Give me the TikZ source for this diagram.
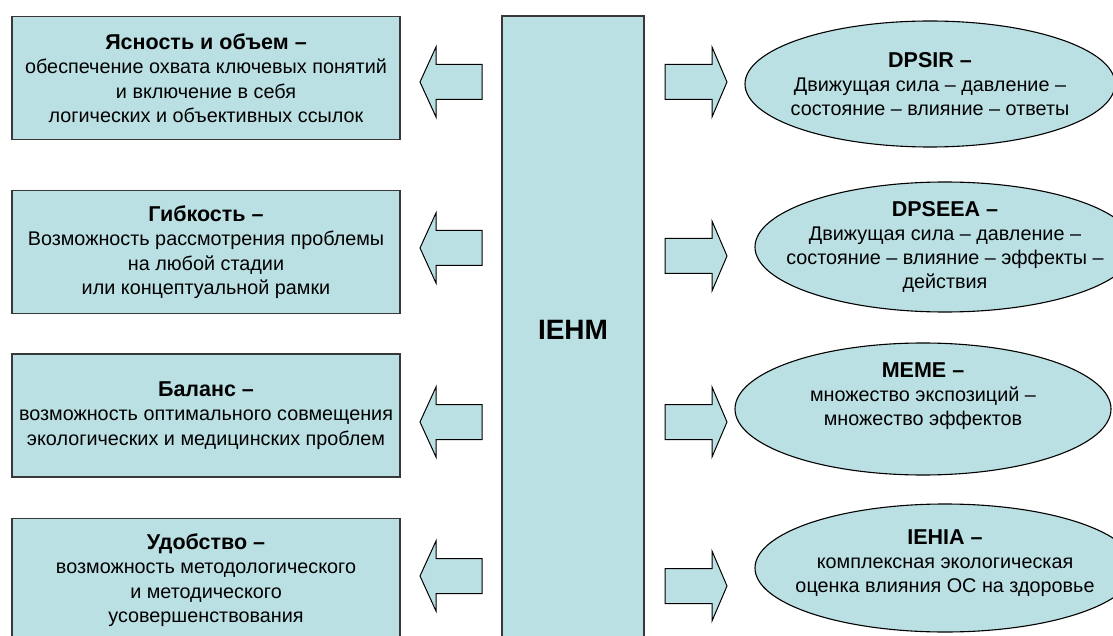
\documentclass[tikz,border=0pt]{standalone}
\usepackage{fontspec}
\setmainfont{Liberation Sans}
\usetikzlibrary{shapes.geometric}
\definecolor{fillblue}{HTML}{BBE0E3}
\definecolor{edgegray}{HTML}{383838}
\newcommand{\boxtitle}[1]{{\bfseries\fontsize{21.5}{24.5}\selectfont #1}}
\tikzset{
  leftbox/.style={draw=edgegray, line width=1.4pt, fill=fillblue, minimum width=388pt, minimum height=123pt,
    inner sep=0pt, align=center, font=\fontsize{19.8}{24.5}\selectfont},
  oval/.style={ellipse, draw=black, line width=1.1pt, fill=fillblue, inner sep=-30pt, align=center,
    font=\fontsize{19.8}{24}\selectfont},
  centerbox/.style={draw=edgegray, line width=1.4pt, fill=fillblue},
  blockarrow/.style={draw=black, line width=1pt, fill=fillblue, line join=miter},
}
\begin{document}
\begin{tikzpicture}[x=1pt, y=-1pt]
\useasboundingbox (0,0) rectangle (1113,636);
\begin{scope}
\clip (0,0) rectangle (1113,636);
% centre column
\draw[centerbox] (502,16) rectangle (644,650);
\node[font=\bfseries\fontsize{28}{32}\selectfont] (iehm) at (573,330) {IEHM};

% left boxes
\node[leftbox] (b1) at (206,78) {\boxtitle{Ясность и объем –}\\обеспечение охвата ключевых понятий\\и включение в себя\\логических и объективных ссылок};
\node[leftbox] (b2) at (206,252) {\boxtitle{Гибкость –}\\Возможность рассмотрения проблемы\\на любой стадии\\или концептуальной рамки};
\node[leftbox] (b3) at (206,415.5) {\boxtitle{Баланс –}\\возможность оптимального совмещения\\экологических и медицинских проблем};
\node[leftbox] (b4) at (206,580) {\boxtitle{Удобство –}\\возможность методологического\\и методического\\усовершенствования};

% ellipses
\node[oval, minimum width=370pt, minimum height=126pt] (e1) at (930,84) {\boxtitle{DPSIR –}\\Движущая сила – давление –\\состояние – влияние – ответы};
\node[oval, minimum width=380pt, minimum height=130pt] (e2) at (945,247) {\boxtitle{DPSEEA –}\\Движущая сила – давление –\\состояние – влияние – эффекты –\\действия};
\node[oval, minimum width=376pt, minimum height=132pt] (e3) at (923,409) {\boxtitle{MEME –}\\множество экспозиций –\\множество эффектов\\[6pt]\mbox{}};
\node[oval, minimum width=380pt, minimum height=128pt] (e4) at (945,568) {\boxtitle{IEHIA –}\\комплексная экологическая\\оценка влияния ОС на здоровье\\[-10pt]\mbox{}};

% left block arrows (pointing to the boxes)
\foreach \c in {82,248,422,576}{
  \draw[blockarrow] (482,\c-17.5) -- (436,\c-17.5) -- (436,\c-35) -- (420,\c) -- (436,\c+35) -- (436,\c+17.5) -- (482,\c+17.5) -- cycle;
}
% right block arrows (pointing to the ellipses)
\foreach \c in {82,256,422,586}{
  \draw[blockarrow] (665,\c-17.5) -- (712,\c-17.5) -- (712,\c-35) -- (727,\c) -- (712,\c+35) -- (712,\c+17.5) -- (665,\c+17.5) -- cycle;
}
\end{scope}
\end{tikzpicture}
\end{document}
